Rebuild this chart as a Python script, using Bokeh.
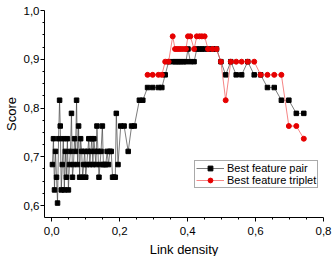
from bokeh.plotting import figure
from bokeh.models import (Range1d, FixedTicker, CustomJSTickFormatter, Legend,
                          LegendItem, ColumnDataSource)
from bokeh.embed import file_html
from bokeh.resources import INLINE

# ---- data ----
x_pair = [0.002, 0.005, 0.008, 0.011, 0.014, 0.017, 0.020, 0.023, 0.025, 0.028,
          0.031, 0.034, 0.037, 0.040, 0.043, 0.046, 0.049, 0.052, 0.055, 0.058,
          0.061, 0.064, 0.067, 0.070, 0.073, 0.076, 0.079, 0.082, 0.085, 0.088,
          0.091, 0.094, 0.097, 0.100, 0.103, 0.106, 0.109, 0.112, 0.115, 0.118,
          0.121, 0.124, 0.127, 0.130, 0.133, 0.136, 0.139, 0.142, 0.145, 0.149,
          0.152, 0.155, 0.159, 0.163, 0.167, 0.171, 0.175, 0.179, 0.183, 0.187,
          0.190, 0.195, 0.203, 0.213, 0.225, 0.235, 0.243, 0.258, 0.268,
          0.282, 0.297, 0.314, 0.324, 0.334, 0.344, 0.356, 0.363, 0.369, 0.375,
          0.381, 0.388, 0.395, 0.401, 0.408, 0.419, 0.427, 0.435, 0.442, 0.450,
          0.460, 0.473, 0.485, 0.498, 0.512, 0.527, 0.543, 0.559, 0.577, 0.596,
          0.615, 0.635, 0.655, 0.676, 0.698, 0.720, 0.742]
score_pair = [0.684, 0.737, 0.632, 0.711, 0.658, 0.605, 0.737, 0.816, 0.763, 0.632,
              0.684, 0.737, 0.632, 0.711, 0.658, 0.737, 0.632, 0.684, 0.711, 0.789,
              0.658, 0.684, 0.737, 0.711, 0.816, 0.684, 0.763, 0.658, 0.737, 0.711,
              0.658, 0.684, 0.711, 0.658, 0.684, 0.711, 0.737, 0.684, 0.711, 0.737,
              0.684, 0.737, 0.711, 0.684, 0.763, 0.711, 0.658, 0.684, 0.711, 0.763,
              0.684, 0.684, 0.684, 0.711, 0.684, 0.711, 0.711, 0.658, 0.658, 0.658,
              0.789, 0.684, 0.763, 0.763, 0.711, 0.763, 0.763, 0.816, 0.816,
              0.842, 0.842, 0.842, 0.842, 0.868, 0.895, 0.895, 0.895, 0.895, 0.895,
              0.895, 0.895, 0.895, 0.921, 0.895, 0.895, 0.921, 0.921, 0.921, 0.921,
              0.921, 0.921, 0.921, 0.895, 0.868, 0.895, 0.868, 0.868, 0.895, 0.868,
              0.868, 0.842, 0.842, 0.816, 0.816, 0.789, 0.789]

x_triplet = [0.282, 0.297, 0.314, 0.324, 0.334, 0.344, 0.356, 0.363, 0.369, 0.375,
             0.381, 0.388, 0.395, 0.401, 0.408, 0.419, 0.427, 0.435, 0.442, 0.450,
             0.460, 0.473, 0.485, 0.498, 0.512, 0.527, 0.543, 0.559, 0.577, 0.596,
             0.615, 0.635, 0.655, 0.676, 0.698, 0.720, 0.742]
score_triplet = [0.868, 0.868, 0.868, 0.868, 0.895, 0.895, 0.947, 0.921, 0.921, 0.921,
                 0.921, 0.921, 0.921, 0.947, 0.947, 0.921, 0.947, 0.947, 0.947, 0.947,
                 0.921, 0.921, 0.921, 0.895, 0.816, 0.895, 0.895, 0.895, 0.895, 0.895,
                 0.868, 0.868, 0.868, 0.868, 0.763, 0.763, 0.737]

x_ticks = [0.0, 0.2, 0.4, 0.6, 0.8]
y_ticks = [0.6, 0.7, 0.8, 0.9, 1.0]
x_minor = [0.05, 0.1, 0.15, 0.25, 0.3, 0.35, 0.45, 0.5, 0.55, 0.65, 0.7, 0.75]
y_minor = [0.625, 0.65, 0.675, 0.725, 0.75, 0.775, 0.825, 0.85, 0.875, 0.925, 0.95, 0.975]

FONT = "Liberation Sans"

p = figure(width=332, height=266,
           x_range=Range1d(-0.0214, 0.8), y_range=Range1d(0.5754, 1.0),
           output_backend="svg", toolbar_location=None,
           min_border_left=42, min_border_right=9, min_border_top=10,
           min_border_bottom=49)
p.outline_line_color = None
p.xgrid.visible = False
p.ygrid.visible = False

src_p = ColumnDataSource(dict(x=x_pair, y=score_pair))
src_t = ColumnDataSource(dict(x=x_triplet, y=score_triplet))

l1 = p.line("x", "y", source=src_p, line_color="#444444", line_width=0.7)
m1 = p.scatter("x", "y", source=src_p, marker="square", size=4.5,
               fill_color="black", line_color="black")
l2 = p.line("x", "y", source=src_t, line_color="#f05050", line_width=0.7)
m2 = p.scatter("x", "y", source=src_t, marker="circle", size=5,
               fill_color="#e60000", line_color="#e60000")

fmt = CustomJSTickFormatter(code="return tick.toFixed(1).replace('.', ',');")
for ax, ticks, minor in ((p.xaxis[0], x_ticks, x_minor), (p.yaxis[0], y_ticks, y_minor)):
    ax.ticker = FixedTicker(ticks=ticks, minor_ticks=minor)
    ax.formatter = fmt
    ax.major_tick_in = 0
    ax.major_tick_out = 4
    ax.minor_tick_in = 0
    ax.minor_tick_out = 2
    ax.axis_line_color = "black"
    ax.major_tick_line_color = "black"
    ax.minor_tick_line_color = "black"
    ax.major_label_text_font = FONT
    ax.major_label_text_font_size = "11.5px"
    ax.major_label_text_color = "black"
    ax.axis_label_text_font = FONT
    ax.axis_label_text_font_size = "13px"
    ax.axis_label_text_font_style = "normal"
    ax.axis_label_text_color = "black"

p.xaxis.axis_label = "Link density"
p.yaxis.axis_label = "Score"
p.xaxis.major_label_standoff = 5
p.xaxis.axis_label_standoff = 4
p.yaxis.major_label_standoff = 1
p.yaxis.axis_label_standoff = 2

legend = Legend(items=[LegendItem(label="Best feature pair", renderers=[l1, m1]),
                       LegendItem(label="Best feature triplet", renderers=[l2, m2])],
                location=(150, 29))
legend.label_text_font = FONT
legend.label_text_font_size = "11px"
legend.label_text_color = "black"
legend.padding = 1
legend.spacing = -1
legend.margin = 0
legend.glyph_width = 28
legend.glyph_height = 12
legend.label_height = 12
legend.label_standoff = 3
legend.border_line_color = "#555555"
legend.border_line_width = 1
legend.background_fill_alpha = 1
p.add_layout(legend)

open("out.html", "w").write(file_html(p, INLINE))
